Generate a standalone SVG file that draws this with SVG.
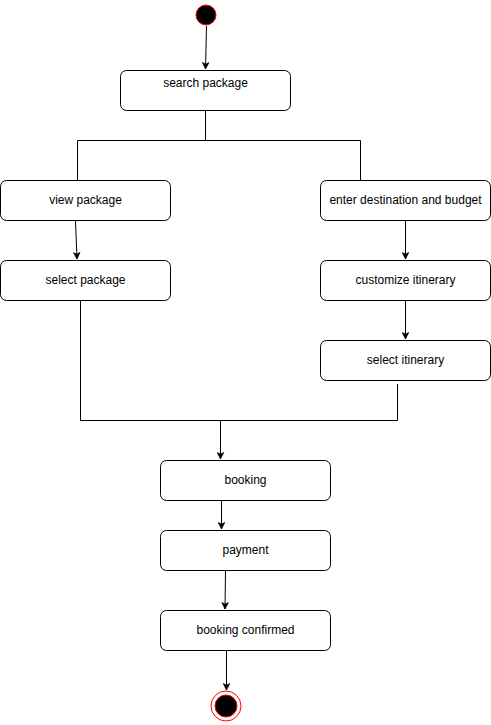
<svg xmlns="http://www.w3.org/2000/svg" width="491" height="725" viewBox="0 0 491 725">
<style>
.box{fill:#fff;stroke:#000;stroke-width:1}
.lbl{font-family:"Liberation Sans",Arial,sans-serif;font-size:12px;fill:#000;text-anchor:middle;dominant-baseline:central}
.edge{fill:none;stroke:#000;stroke-width:1}
.arr{marker-end:url(#ah)}
</style>
<defs>
<marker id="ah" viewBox="0 0 10 10" refX="9" refY="5" markerWidth="8" markerHeight="8" markerUnits="userSpaceOnUse" orient="auto">
<path d="M1,1 L9,5 L1,9 L3,5 Z" fill="#000" stroke="#000"/>
</marker>
</defs>
<rect width="491" height="725" fill="#fff"/>
<g id="connectors">
<path class="edge arr" d="M206.5,26 L205.5,69"/>
<path class="edge" d="M205.5,111 L205.5,140.5 M77.5,140.5 L360.5,140.5 M77.5,140.5 L77.5,180 M360.5,140.5 L360.5,180"/>
<path class="edge arr" d="M75.5,221 L77,259"/>
<path class="edge arr" d="M405.5,221 L405.5,259"/>
<path class="edge arr" d="M405.5,301 L405.5,339"/>
<path class="edge" d="M80.5,301 L80.5,420.5 L397.5,420.5 L397.5,384"/>
<path class="edge arr" d="M220.5,420.5 L220.5,459"/>
<path class="edge arr" d="M221.5,501 L221.5,529"/>
<path class="edge arr" d="M225.5,571 L225,609"/>
<path class="edge arr" d="M226.5,651 L226.5,690"/>
</g>
<g id="start"><circle cx="206" cy="15" r="10" fill="#000" stroke="#f00" stroke-width="1"/></g>
<g id="search"><rect class="box" x="120.5" y="70.5" width="170" height="40" rx="6"/><text class="lbl" x="205.5" y="82.5">search package</text></g>
<g id="view"><rect class="box" x="0.5" y="180.5" width="170" height="40" rx="6"/><text class="lbl" x="85.5" y="199.5">view package</text></g>
<g id="enter"><rect class="box" x="320.5" y="180.5" width="170" height="40" rx="6"/><text class="lbl" x="405.5" y="199.5">enter destination and budget</text></g>
<g id="selectpkg"><rect class="box" x="0.5" y="260.5" width="170" height="40" rx="6"/><text class="lbl" x="85.5" y="279.5">select package</text></g>
<g id="customize"><rect class="box" x="320.5" y="260.5" width="170" height="40" rx="6"/><text class="lbl" x="405.5" y="279.5">customize itinerary</text></g>
<g id="selectitin"><rect class="box" x="320.5" y="340.5" width="170" height="40" rx="6"/><text class="lbl" x="405.5" y="359.5">select itinerary</text></g>
<g id="booking"><rect class="box" x="160.5" y="460.5" width="170" height="40" rx="6"/><text class="lbl" x="245.5" y="479.5">booking</text></g>
<g id="payment"><rect class="box" x="160.5" y="530.5" width="170" height="40" rx="6"/><text class="lbl" x="245.5" y="549.5">payment</text></g>
<g id="confirmed"><rect class="box" x="160.5" y="610.5" width="170" height="40" rx="6"/><text class="lbl" x="245.5" y="629.5">booking confirmed</text></g>
<g id="end"><circle cx="226" cy="706" r="15" fill="#fff" stroke="#f00" stroke-width="1"/><circle cx="226" cy="706" r="11" fill="#000" stroke="#f00" stroke-width="1"/></g>
</svg>
